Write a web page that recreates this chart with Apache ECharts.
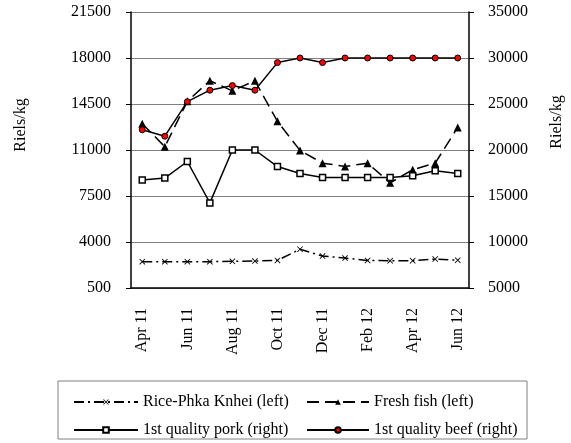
<!DOCTYPE html>
<html>
<head>
<meta charset="utf-8">
<script src="https://cdn.jsdelivr.net/npm/echarts@6/dist/echarts.min.js"></script>
<style>
  html, body { margin: 0; padding: 0; background: #fff; }
  #chart { width: 571px; height: 443px; }
</style>
</head>
<body>
<div id="chart"></div>
<script>
// months on the x axis
const months = ['Apr 11', 'May 11', 'Jun 11', 'Jul 11', 'Aug 11', 'Sep 11', 'Oct 11',
  'Nov 11', 'Dec 11', 'Jan 12', 'Feb 12', 'Mar 12', 'Apr 12', 'May 12', 'Jun 12']

// left axis series (Riels/kg)
const rice = [2500, 2500, 2500, 2500, 2530, 2550, 2600, 3450, 2930, 2780, 2600, 2570, 2580, 2700, 2620]
const fish = [13000, 11250, 14700, 16270, 15500, 16270, 13180, 10970, 10000, 9750, 10000, 8500, 9500, 10000, 12720]

// right axis series (Riels/kg)
const pork = [16750, 16950, 18750, 14250, 20000, 20000, 18200, 17450, 17000, 17000, 17000, 17000, 17200, 17750, 17450]
const beef = [22200, 21500, 25250, 26500, 27000, 26500, 29500, 30000, 29500, 30000, 30000, 30000, 30000, 30000, 30000]

const seriesNames = ['Rice-Phka Knhei (left)', 'Fresh fish (left)', '1st quality pork (right)', '1st quality beef (right)']

const FONT = 'Liberation Serif'
const crossPath = 'path://M0,1L1,0L5,4L9,0L10,1L6,5L10,9L9,10L5,6L1,10L0,9L4,5Z'

const chart = echarts.init(document.getElementById('chart'))

// plain numbers, no thousands separator
const plain = v => String(v)

chart.setOption({
  animation: false,
  textStyle: { fontFamily: FONT, color: '#000' },
  grid: { left: 131, right: 102, top: 12, bottom: 155 },
  xAxis: {
    type: 'category',
    data: months,
    boundaryGap: true,
    axisLine: { lineStyle: { color: '#000', width: 1.5 } },
    axisTick: { interval: 1, length: 5, lineStyle: { color: '#000' } },
    axisLabel: { interval: 1, rotate: 90, margin: 20, fontSize: 16, fontFamily: FONT, color: '#000' },
    splitLine: { show: false }
  },
  yAxis: [
    {
      type: 'value',
      min: 500,
      max: 21500,
      interval: 3500,
      position: 'left',
      axisLine: { show: true, lineStyle: { color: '#000', width: 1.5 } },
      axisTick: { show: true, length: 5, lineStyle: { color: '#000' } },
      axisLabel: { margin: 20, fontSize: 16, fontFamily: FONT, color: '#000', formatter: plain },
      splitLine: { lineStyle: { color: '#808080', width: 1 } }
    },
    {
      type: 'value',
      min: 5000,
      max: 35000,
      interval: 5000,
      position: 'right',
      axisLine: { show: true, lineStyle: { color: '#000', width: 1.5 } },
      axisTick: { show: true, length: 5, lineStyle: { color: '#000' } },
      axisLabel: { margin: 19, fontSize: 16, fontFamily: FONT, color: '#000', formatter: plain },
      splitLine: { show: false }
    }
  ],
  legend: [
    {
      orient: 'vertical',
      left: 68,
      top: 389,
      itemWidth: 64,
      itemHeight: 7,
      itemGap: 12,
      textStyle: { fontSize: 16, fontFamily: FONT, color: '#000' },
      data: [seriesNames[0], seriesNames[2]]
    },
    {
      orient: 'vertical',
      left: 301,
      top: 389,
      itemWidth: 62,
      itemHeight: 7,
      itemGap: 12,
      textStyle: { fontSize: 16, fontFamily: FONT, color: '#000' },
      data: [seriesNames[1], seriesNames[3]]
    }
  ],
  graphic: [
    {
      type: 'rect',
      shape: { x: 58, y: 381, width: 469, height: 58 },
      style: { fill: 'none', stroke: '#808080', lineWidth: 1 }
    },
    {
      type: 'text',
      x: 13, y: 125, rotation: Math.PI / 2,
      style: { text: 'Riels/kg', font: '16px "Liberation Serif"', fill: '#000', align: 'center', verticalAlign: 'top' }
    },
    {
      type: 'text',
      x: 549, y: 122, rotation: Math.PI / 2,
      style: { text: 'Riels/kg', font: '16px "Liberation Serif"', fill: '#000', align: 'center', verticalAlign: 'top' }
    }
  ],
  series: [
    {
      name: seriesNames[0],
      type: 'line',
      yAxisIndex: 0,
      data: rice,
      symbol: crossPath,
      symbolSize: 6,
      lineStyle: { color: '#000', width: 1.5, type: [10, 4, 2, 4] },
      itemStyle: { color: '#000' }
    },
    {
      name: seriesNames[1],
      type: 'line',
      yAxisIndex: 0,
      data: fish,
      symbol: 'triangle',
      symbolSize: 8,
      lineStyle: { color: '#000', width: 1.5, type: [12, 6] },
      itemStyle: { color: '#000' }
    },
    {
      name: seriesNames[2],
      type: 'line',
      yAxisIndex: 1,
      data: pork,
      symbol: 'rect',
      symbolSize: 6,
      lineStyle: { color: '#000', width: 1.5 },
      itemStyle: { color: '#fff', borderColor: '#000', borderWidth: 1.5 }
    },
    {
      name: seriesNames[3],
      type: 'line',
      yAxisIndex: 1,
      data: beef,
      symbol: 'circle',
      symbolSize: 6,
      lineStyle: { color: '#000', width: 1.5 },
      itemStyle: { color: '#ff0000', borderColor: '#000', borderWidth: 1 }
    }
  ]
})
</script>
</body>
</html>
